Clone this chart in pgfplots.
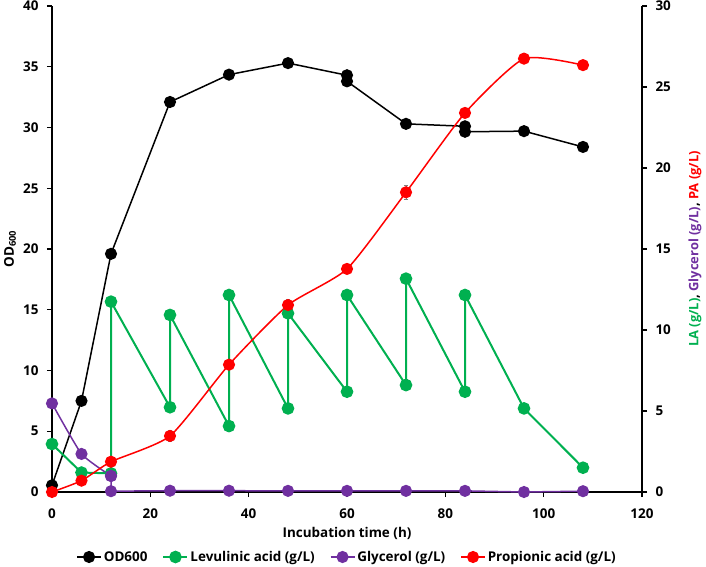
\documentclass[border=0pt]{standalone}
\usepackage{pgfplots}
\pgfplotsset{compat=1.18}
\usepackage{fontspec}
\setmainfont{Open Sans}
\definecolor{lagreen}{HTML}{00B050}
\definecolor{glypurple}{HTML}{7030A0}
\definecolor{pared}{HTML}{FF0000}
\definecolor{errgray}{HTML}{7F7F7F}
\begin{document}
\begin{tikzpicture}
\pgfplotsset{
 base/.style={
  scale only axis, width=590bp, height=486bp,
  at={(0,0)}, anchor=south west,
  xmin=0, xmax=120,
  tick align=outside,
  major tick length=5bp,
  every tick/.style={black, line width=1.3bp},
  axis line style={-, black, line width=1.7bp},
  tick label style={font=\fontsize{13.5}{16}\selectfont\bfseries},
  /pgf/number format/assume math mode=true,
  label style={font=\fontsize{13.5}{16}\selectfont\bfseries},
  clip=false,
 },
 mk/.style={mark=*, mark size=5.3bp, mark options={solid, fill=#1, draw=#1}, color=#1},
 eb/.style={error bars/.cd, y dir=both, y explicit,
   error bar style={errgray, line width=0.6bp},
   error mark options={rotate=90, errgray, mark size=2.2bp, line width=0.6bp}},
}
\begin{axis}[base,
  axis x line*=bottom, axis y line*=left,
  ymin=0, ymax=40, ytick={0,5,...,40},
  xtick={0,20,...,120},
  yticklabel style={xshift=-5bp},
  xticklabel style={yshift=-8bp},
  xlabel={Incubation time (h)},
  ylabel={OD\textsubscript{600}},
  xlabel style={at={(axis description cs:0.5,0)}, yshift=-41bp, anchor=center},
  ylabel style={at={(axis description cs:0,0.5)}, yshift=42bp, anchor=center},
]
\addplot[mk=black, line width=1.5bp] coordinates {
 (0,0.55) (6,7.5) (12,19.6) (24,32.1) (36,34.35) (48,35.3) (60,34.3)
 (60,33.8) (72,30.3) (84,30.1) (84,29.65) (96,29.7) (108,28.4)};
\end{axis}
\begin{axis}[base,
  axis x line=none, axis y line*=right,
  ymin=0, ymax=30, ytick={0,5,...,30},
  yticklabel style={xshift=5bp},
  ylabel={\textcolor{lagreen}{LA (g/L)}, \textcolor{glypurple}{Glycerol (g/L)}, \textcolor{pared}{PA (g/L)}},
  ylabel style={at={(axis description cs:1,0.5)}, yshift=-53bp, anchor=center, font=\fontsize{13}{16}\selectfont\bfseries},
  legend columns=4,
  legend cell align=left,
  legend style={at={(axis description cs:0.5,0)}, yshift=-65bp, anchor=center,
    draw=none, fill=none, font=\fontsize{13.5}{16}\selectfont\bfseries,
    /tikz/every even column/.append style={column sep=13bp},
    /tikz/every odd column/.append style={inner xsep=1bp}},
  legend image code/.code={\draw[mark repeat=2,mark phase=2] plot coordinates {(0bp,0bp) (12bp,0bp) (24bp,0bp)};},
]
\addlegendimage{mk=black, line width=1.5bp}
\addlegendentry{OD600}
\addplot[mk=lagreen, line width=2bp, eb] coordinates {
 (0,2.96) (6,1.2) (12,1.15) +- (0,0.1) (12,11.75) (24,5.23) +- (0,0.2) (24,10.93)
 (36,4.07) +- (0,0.3) (36,12.16) (48,5.16) +- (0,0.2) (48,11.03) +- (0,0.15)
 (60,6.19) (60,12.16) (72,6.6) +- (0,0.35) (72,13.17) (84,6.19) (84,12.16)
 (96,5.16) (108,1.5)};
\addlegendentry{Levulinic acid (g/L)}
\addplot[mk=glypurple, line width=1.5bp, smooth, tension=0.3] coordinates {
 (0,5.47) (6,2.35) (12,0.99)};
\addlegendentry{Glycerol (g/L)}
\addplot[mk=glypurple, line width=1.5bp, forget plot] coordinates {
 (12,0.99) (12,0.05) (24,0.08) (36,0.08) (48,0.07) (60,0.07) (72,0.07) (84,0.07) (96,0.0) (108,0.05)};
\addplot[mk=pared, line width=1.5bp, smooth, tension=0.35, eb] coordinates {
 (0,0) (6,0.7) (12,1.87) (24,3.46) +- (0,0.35) (36,7.86) +- (0,0.2) (48,11.54) +- (0,0.35)
 (60,13.77) (72,18.5) +- (0,0.45) (84,23.4) (96,26.75) +- (0,0.3) (108,26.35)};
\addlegendentry{Propionic acid (g/L)}
\end{axis}
\pgfresetboundingbox
\path[use as bounding box] (-52bp,-75bp) rectangle (654bp,492bp);
\end{tikzpicture}
\end{document}
